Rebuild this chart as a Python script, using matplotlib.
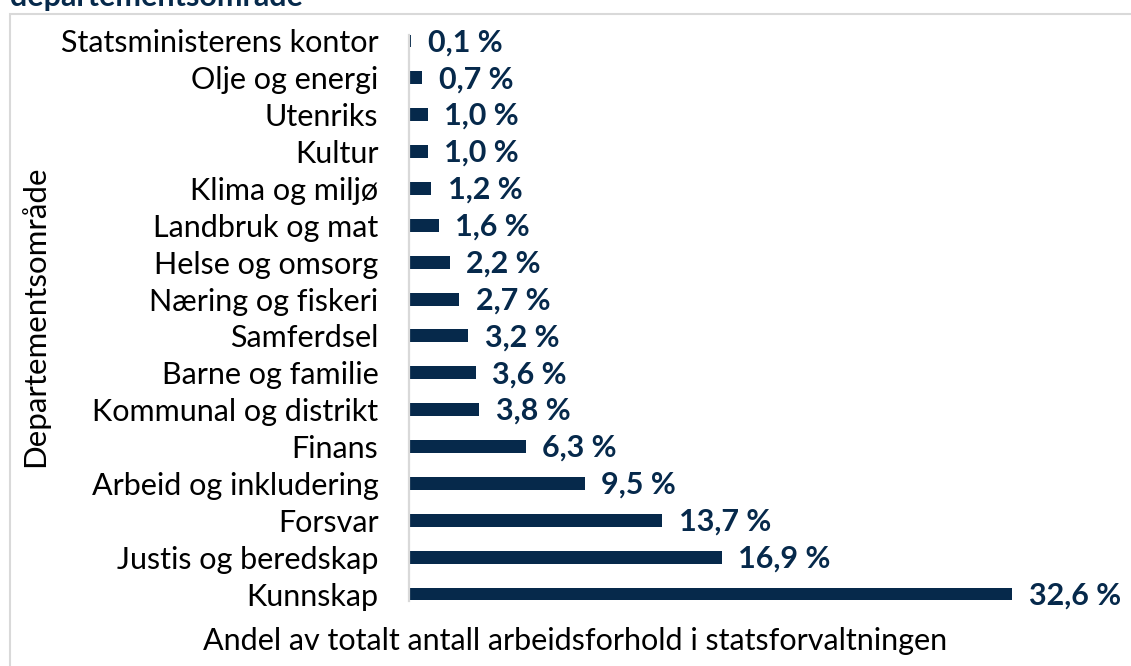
import matplotlib
matplotlib.use("Agg")
import matplotlib.pyplot as plt
from matplotlib.patches import Rectangle

categories = ["Statsministerens kontor", "Olje og energi", "Utenriks", "Kultur",
              "Klima og miljø", "Landbruk og mat", "Helse og omsorg",
              "Næring og fiskeri", "Samferdsel", "Barne og familie",
              "Kommunal og distrikt", "Finans", "Arbeid og inkludering",
              "Forsvar", "Justis og beredskap", "Kunnskap"]
values = [0.1, 0.7, 1.0, 1.0, 1.2, 1.6, 2.2, 2.7, 3.2, 3.6, 3.8, 6.3, 9.5, 13.7, 16.9, 32.6]
value_labels = ["0,1 %", "0,7 %", "1,0 %", "1,0 %", "1,2 %", "1,6 %", "2,2 %", "2,7 %",
                "3,2 %", "3,6 %", "3,8 %", "6,3 %", "9,5 %", "13,7 %", "16,9 %", "32,6 %"]
xlabel = "Andel av totalt antall arbeidsforhold i statsforvaltningen"
ylabel = "Departementsområde"
title = "departementsområde"

FONT = "Lato"
NAVY = "#06294b"
GRAY = "#d9d9d9"

W, H = 1131, 666
fig = plt.figure(figsize=(W / 100, H / 100), dpi=100)

# axes placement in pixels
left_px, right_px = 409, 1131
top_px, bot_px = 34.5, 600.5
ax = fig.add_axes([left_px / W, 1 - bot_px / H, (right_px - left_px) / W, (bot_px - top_px) / H])

bh = 0.35
y = list(range(len(categories)))
ax.barh(y, values, height=bh, color=NAVY)
ax.set_ylim(len(categories) - 1 + bh / 2, -bh / 2)
ax.set_xlim(0, (right_px - left_px) / 18.5)

for yi, v, lab in zip(y, values, value_labels):
    ax.annotate(lab, (v, yi), xytext=(12, -1), textcoords="offset points",
                va="center", ha="left", fontsize=22, fontweight="bold",
                color=NAVY, family=FONT)

ax.set_yticks(y)
ax.set_yticklabels(categories, fontsize=22, family=FONT, color="black")
ax.tick_params(axis="y", length=0, pad=22)
ax.set_xticks([])
for s in ["top", "right", "bottom"]:
    ax.spines[s].set_visible(False)
ax.spines["left"].set_color(GRAY)
ax.spines["left"].set_linewidth(1.6)

fig.text(575 / W, 1 - 641 / H, xlabel, ha="center", va="center", fontsize=22, family=FONT)
fig.text(35 / W, 1 - 316 / H, ylabel, ha="center", va="center", rotation=90, fontsize=22.5, family=FONT)

# outer border (partially clipped)
fig.patches.append(Rectangle((9.5 / W, -0.1), 1.2, 1 - 14 / H + 0.1, transform=fig.transFigure,
                             fill=False, edgecolor=GRAY, linewidth=1.5))
# clipped title at top
fig.text(10 / W, 1 - 6 / H, title, ha="left", va="baseline", fontsize=22,
         fontweight="bold", color=NAVY, family=FONT)

fig.savefig("out.png", dpi=100)
